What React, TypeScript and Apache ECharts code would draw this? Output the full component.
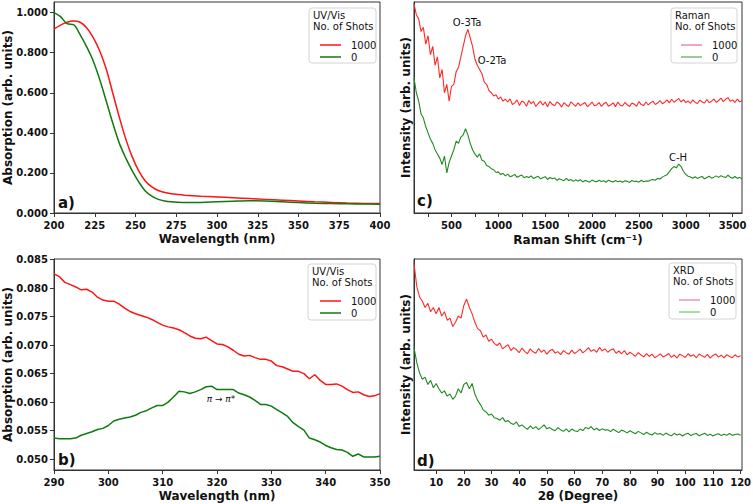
import React, { useEffect, useRef } from 'react';
import * as echarts from 'echarts';

// ---------- Panel a: UV/Vis full range ----------
const uvWavelengthA = [200, 204, 208, 212, 216, 220, 224, 228, 232, 236, 240, 244, 248, 252, 256, 260, 264, 268, 272, 276, 280, 290, 300, 310, 320, 330, 340, 350, 360, 370, 380, 390, 400];
const uvShots1000A = [0.918, 0.938, 0.952, 0.958, 0.952, 0.925, 0.877, 0.81, 0.72, 0.6, 0.48, 0.37, 0.28, 0.21, 0.16, 0.13, 0.112, 0.102, 0.096, 0.092, 0.089, 0.084, 0.08, 0.076, 0.072, 0.068, 0.064, 0.06, 0.056, 0.053, 0.05, 0.048, 0.047];
const uvShots0A = [1.0, 0.98, 0.945, 0.94, 0.89, 0.83, 0.76, 0.668, 0.56, 0.45, 0.35, 0.275, 0.21, 0.155, 0.11, 0.084, 0.068, 0.06, 0.056, 0.054, 0.053, 0.053, 0.056, 0.059, 0.061, 0.06, 0.056, 0.052, 0.049, 0.047, 0.046, 0.045, 0.044];

// ---------- Panel b: UV/Vis zoom 290-350 nm ----------
const uvWavelengthB = [290, 291, 292, 293, 294, 295, 296, 297, 298, 299, 300, 301, 302, 303, 304, 305, 306, 307, 308, 309, 310, 311, 312, 313, 314, 315, 316, 317, 318, 319, 320, 321, 322, 323, 324, 325, 326, 327, 328, 329, 330, 331, 332, 333, 334, 335, 336, 337, 338, 339, 340, 341, 342, 343, 344, 345, 346, 347, 348, 349, 350];
const uvShots1000B = [0.0825, 0.082, 0.081, 0.0806, 0.0802, 0.0797, 0.0798, 0.0793, 0.0784, 0.0779, 0.0777, 0.0777, 0.0772, 0.0765, 0.0759, 0.0755, 0.0752, 0.0749, 0.0745, 0.074, 0.0735, 0.0732, 0.073, 0.0727, 0.0722, 0.0716, 0.0712, 0.0711, 0.0714, 0.0708, 0.0702, 0.0701, 0.0697, 0.0691, 0.0684, 0.0681, 0.0682, 0.0678, 0.0675, 0.0675, 0.0672, 0.0664, 0.0662, 0.0658, 0.0654, 0.0654, 0.065, 0.0641, 0.0648, 0.0638, 0.0631, 0.0631, 0.0632, 0.0628, 0.0622, 0.0617, 0.0618, 0.0613, 0.061, 0.0611, 0.0615];
const uvShots0B = [0.0537, 0.0536, 0.0536, 0.0536, 0.0537, 0.0542, 0.0545, 0.0548, 0.0552, 0.0554, 0.0559, 0.0567, 0.057, 0.0572, 0.0574, 0.0577, 0.0582, 0.0585, 0.059, 0.0594, 0.0594, 0.06, 0.0609, 0.0619, 0.0618, 0.0615, 0.0618, 0.0622, 0.0627, 0.0628, 0.0622, 0.0622, 0.0622, 0.0622, 0.0616, 0.0613, 0.0609, 0.0603, 0.0596, 0.0596, 0.0593, 0.0587, 0.0581, 0.0575, 0.0564, 0.0557, 0.0551, 0.0537, 0.0534, 0.053, 0.0524, 0.052, 0.0517, 0.0516, 0.0512, 0.0505, 0.0509, 0.0504, 0.0504, 0.0504, 0.0505];

// ---------- Panel c: Raman ----------
const ramanShift = [
  100, 125, 150, 175, 200, 225, 250, 275, 300, 325,
  350, 375, 400, 425, 450, 475, 500, 525, 550, 575,
  600, 625, 650, 675, 700, 725, 750, 775, 800, 825,
  850, 875, 900, 925, 950, 975, 1000, 1025, 1050, 1075,
  1100, 1125, 1150, 1175, 1200, 1225, 1250, 1275, 1300, 1325,
  1350, 1375, 1400, 1425, 1450, 1475, 1500, 1525, 1550, 1575,
  1600, 1625, 1650, 1675, 1700, 1725, 1750, 1775, 1800, 1825,
  1850, 1875, 1900, 1925, 1950, 1975, 2000, 2025, 2050, 2075,
  2100, 2125, 2150, 2175, 2200, 2225, 2250, 2275, 2300, 2325,
  2350, 2375, 2400, 2425, 2450, 2475, 2500, 2525, 2550, 2575,
  2600, 2625, 2650, 2675, 2700, 2725, 2750, 2775, 2800, 2825,
  2850, 2875, 2900, 2925, 2950, 2975, 3000, 3025, 3050, 3075,
  3100, 3125, 3150, 3175, 3200, 3225, 3250, 3275, 3300, 3325,
  3350, 3375, 3400, 3425, 3450, 3475, 3500, 3525, 3550, 3575,
  3600,
];
const ramanShots1000 = [
  99, 94, 92, 86, 88, 80, 84, 75, 79, 70,
  74, 64, 68, 57, 61, 53, 60, 61, 67, 69,
  74, 79, 84, 87, 83, 79, 73, 70, 68, 66,
  62, 61, 58, 57, 55.5, 56, 54, 55, 53, 54,
  52.6, 54.1, 51.4, 52.2, 53.6, 50.9, 53.1, 52.4, 50.6, 53.3,
  51.8, 52.9, 50.5, 51.9, 53, 51.1, 52.6, 50.4, 52.8, 51.5,
  50.8, 52.6, 51.9, 50.2, 52.3, 51.2, 50.5, 52.7, 51.6, 50.6,
  52.2, 50.9, 51.7, 52.4, 50.3, 51.4, 52.6, 50.8, 51.2, 52.3,
  50.5, 51.8, 52.5, 50.6, 51.3, 52.2, 50.4, 52.6, 51.1, 50.7,
  52.4, 51.3, 50.5, 52.1, 51.6, 50.6, 52.8, 51.4, 50.9, 52.6,
  51.2, 52.3, 53, 51.4, 52.1, 53.3, 51.8, 52.5, 53.6, 52.2,
  53.9, 52.5, 53.4, 54.3, 52.6, 53.7, 52.3, 53.1, 52, 53.6,
  52.4, 51.9, 53.5, 52.6, 52.1, 53.8, 52.3, 53, 54, 52.5,
  53.3, 54.5, 52.8, 53.9, 54.7, 52.9, 53.6, 52.4, 54, 52.7,
  53.2,
];
const ramanShots0 = [
  64, 57, 53, 47, 45, 41, 38, 35, 33, 30,
  28, 26, 23, 27, 19, 24, 27, 30, 34, 33,
  36, 37, 40, 37, 33, 30, 28, 26.5, 28, 25,
  24.5, 22.5, 22, 21, 20.5, 19.2, 19.5, 18.2, 18.8, 17.6,
  18.4, 17.2, 17.6, 18.3, 16.9, 17.5, 18, 16.7, 17.3, 16.8,
  17.6, 16.3, 16.9, 17.4, 16.2, 16.7, 17.2, 15.9, 16.8, 16.2,
  16.6, 15.5, 16.2, 15.8, 15.3, 16.4, 15.4, 15.9, 15, 15.7,
  15.2, 15.8, 14.7, 15.4, 15.1, 14.6, 15.6, 15, 14.8, 15.5,
  14.9, 15.3, 14.6, 15.5, 15, 14.7, 15.4, 14.8, 15.2, 14.6,
  15.3, 15, 14.5, 15.4, 14.9, 15.1, 14.6, 15.5, 14.8, 15.2,
  15.1, 15.6, 15.9, 15.5, 16.4, 16.1, 17, 17.6, 18.1, 19.6,
  21, 22, 21.4, 23.2, 22, 19.8, 18.3, 17.4, 17.1, 16.5,
  17.2, 16.4, 16.9, 17.3, 16.2, 16.8, 17.4, 16.5, 17, 17.6,
  16.9, 17.7, 17.2, 16.8, 17.9, 17, 16.5, 17.3, 16.4, 16.9,
  16.1,
];

// ---------- Panel d: XRD ----------
const twoTheta = [
  2, 3, 4, 5, 6, 7, 8, 9, 10, 11,
  12, 13, 14, 15, 16, 17, 18, 19, 20, 21,
  22, 23, 24, 25, 26, 27, 28, 29, 30, 31,
  32, 33, 34, 35, 36, 37, 38, 39, 40, 41,
  42, 43, 44, 45, 46, 47, 48, 49, 50, 51,
  52, 53, 54, 55, 56, 57, 58, 59, 60, 61,
  62, 63, 64, 65, 66, 67, 68, 69, 70, 71,
  72, 73, 74, 75, 76, 77, 78, 79, 80, 81,
  82, 83, 84, 85, 86, 87, 88, 89, 90, 91,
  92, 93, 94, 95, 96, 97, 98, 99, 100, 101,
  102, 103, 104, 105, 106, 107, 108, 109, 110, 111,
  112, 113, 114, 115, 116, 117, 118, 119, 120,
];
const xrdShots1000 = [
  98, 87, 82, 80, 77, 79, 75, 77, 74, 77,
  73, 75, 71, 72, 68, 70, 73, 72, 78, 81,
  77, 74, 70, 67, 66, 63, 64, 61, 62, 60,
  59, 60.2, 57.4, 58.5, 59.4, 56.6, 58, 57.1, 55.6, 57.8,
  56.2, 55.1, 57.4, 56, 55.3, 57.6, 55.8, 56.9, 54.9, 56.5,
  57.2, 55.4, 56.1, 54.7, 56.6, 55.6, 54.9, 56.8, 55.2, 56.1,
  57.3, 55.5, 56.6, 58, 56.2, 57.1, 55.8, 58.1, 56.5, 57.4,
  55.8, 56.9, 57.4, 55.3, 56.4, 55.1, 56.6, 54.6, 55.8, 54.9,
  53.9, 55.6, 54.5, 53.6, 55.2, 53.8, 54.9, 53.2, 54.1, 55,
  53.6, 54.3, 55.2, 53.4, 54.5, 53.1, 54.9, 54.2, 53.3, 55.1,
  53.9, 54.6, 53.2, 55, 54.1, 53.4, 54.8, 53, 54.3, 55,
  53.5, 54.4, 53.1, 54.7, 53.8, 53.2, 54.6, 53.5, 54.1,
];
const xrdShots0 = [
  58, 51, 46, 43, 44, 40.5, 42.5, 39, 41, 38.5,
  36.5, 37.5, 35, 36, 33.5, 35, 38.5, 36.5, 40.5, 41.5,
  38.5, 41, 36, 33, 31, 28.5, 27.5, 26, 26.5, 24.8,
  24.4, 23.6, 24.8, 22.9, 23.4, 22.2, 21.6, 22.8, 20.6, 21.4,
  20.2, 19.3, 20.9, 19.6, 20.5, 19.1, 20.2, 21.4, 19.5, 20.1,
  19.2, 18.6, 20.1, 19, 18.3, 19.5, 18.1, 19.4, 18.6, 18.2,
  19.4, 18.7, 20.2, 19.5, 20.6, 19, 19.8, 18.7, 19.5, 18.9,
  19.1, 18.2, 19.3, 18.5, 17.7, 18.9, 18.4, 17.6, 18.6, 17.9,
  17.2, 18.3, 17.6, 16.8, 17.9, 17.1, 16.6, 17.7, 16.9, 17.3,
  16.4, 17.5, 16.7, 16.2, 17.4, 16.6, 17.1, 16.1, 16.9, 17.4,
  16.3, 16.9, 17.3, 16.2, 16.8, 17.4, 16.4, 17, 16.1, 16.8,
  17.2, 16.3, 16.9, 16.5, 17.3, 16.4, 16.8, 17.1, 16.5,
];

// ---------- Tick labels ----------
const ticksA_x = [200, 225, 250, 275, 300, 325, 350, 375, 400];
const ticksA_y = [0, 0.2, 0.4, 0.6, 0.8, 1.0];
const ticksB_x = [290, 300, 310, 320, 330, 340, 350];
const ticksB_y = [0.05, 0.055, 0.06, 0.065, 0.07, 0.075, 0.08, 0.085];
const ticksC_xMinor = [250, 500, 750, 1000, 1250, 1500, 1750, 2000, 2250, 2500, 2750, 3000, 3250, 3500];
const ticksC_x = [500, 1000, 1500, 2000, 2500, 3000, 3500];
const ticksD_x = [10, 20, 30, 40, 50, 60, 70, 80, 90, 100, 110, 120];

const FONT = '"DejaVu Sans", Verdana, sans-serif';
const AX = '#333333';
const RED = '#ff1414';
const GREEN = '#0f7a0f';
const RAMAN_RED = '#ff2a2a';
const RAMAN_GREEN = '#218a21';
const LINE_ICON = 'path://M0,0H21V1.5H0Z';

const zip = (xs: number[], ys: number[]) => xs.map((x, i) => [x, ys[i]]);
const plain = (v: number) => String(v);

const LEGEND_LABELS: Record<string, string> = {
  'UV/Vis (a) 1000': '1000', 'UV/Vis (a) 0': '0',
  'UV/Vis (b) 1000': '1000', 'UV/Vis (b) 0': '0',
  'Raman 1000': '1000', 'Raman 0': '0',
  'XRD 1000': '1000', 'XRD 0': '0',
};

function xAxisBase(gridIndex: number, min: number, max: number, name: string, labels: number[], ticks: number[], fmt?: (v: number) => string) {
  return {
    type: 'value', gridIndex, min, max, name,
    nameLocation: 'middle', nameGap: 20, nameMoveOverlap: false,
    nameTextStyle: { fontFamily: FONT, fontWeight: 'bold', fontSize: 12, color: '#111' },
    axisLine: { show: true, onZero: false, lineStyle: { color: AX, width: 1 } },
    axisTick: { show: true, length: 4, lineStyle: { color: AX }, customValues: ticks },
    axisLabel: { fontFamily: FONT, fontWeight: 'bold', fontSize: 10, color: '#111', margin: 7, customValues: labels, formatter: fmt || plain },
    splitLine: { show: false },
  };
}

function yAxisBase(gridIndex: number, min: number, max: number, name: string, labels: number[] | null, fmt: ((v: number) => string) | undefined, nameGap: number) {
  return {
    type: 'value', gridIndex, min, max, name,
    nameLocation: 'middle', nameGap, nameMoveOverlap: false,
    nameTextStyle: { fontFamily: FONT, fontWeight: 'bold', fontSize: 12, color: '#111' },
    axisLine: { show: true, onZero: false, lineStyle: { color: AX, width: 1 } },
    axisTick: labels ? { show: true, length: 4, lineStyle: { color: AX }, customValues: labels } : { show: false },
    axisLabel: labels ? { show: true, fontFamily: FONT, fontWeight: 'bold', fontSize: 10, color: '#111', margin: 6, customValues: labels, formatter: fmt } : { show: false },
    splitLine: { show: false },
  };
}

function legendBox(x: number, y: number, w: number, h: number, t1: string, tx: number) {
  return [
    { type: 'rect', z: 3, shape: { x, y, width: w, height: h, r: 3 }, style: { fill: 'rgba(255,255,255,0.9)', stroke: '#d4d4d4', lineWidth: 1 } },
    { type: 'text', z: 5, style: { text: t1, x: tx, y: y + 7, fontFamily: FONT, fontSize: 10, fill: '#111', align: 'left', verticalAlign: 'middle' } },
    { type: 'text', z: 5, style: { text: 'No. of Shots', x: tx, y: y + 18, fontFamily: FONT, fontSize: 10, fill: '#111', align: 'left', verticalAlign: 'middle' } },
  ];
}

function txt(text: string, x: number, y: number, size: number, bold: boolean, align = 'center', italic = false) {
  return { type: 'text', z: 5, style: { text, x, y, fontFamily: FONT, fontSize: size, fontWeight: bold ? 'bold' : 'normal', fontStyle: italic ? 'italic' : 'normal', fill: '#111', align, verticalAlign: 'middle' } };
}

function legend(left: number, top: number, items: { name: string; color: string }[]) {
  return {
    orient: 'vertical', left, top, itemWidth: 21, itemHeight: 12, itemGap: 2, selectedMode: false,
    icon: LINE_ICON, symbolKeepAspect: true,
    formatter: (n: string) => LEGEND_LABELS[n] ?? n,
    textStyle: { fontFamily: FONT, fontSize: 10, color: '#111', padding: [0, 0, 0, 5] },
    data: items.map((it) => ({ name: it.name, icon: LINE_ICON, itemStyle: { color: it.color, borderWidth: 0 } })),
  };
}

export default function App() {
  const ref = useRef<HTMLDivElement>(null);
  useEffect(() => {
    if (!ref.current) return;
    const chart = echarts.init(ref.current, null, { renderer: 'svg' });
    const grid = (left: number, top: number, width: number, height: number) => ({
      left, top, width, height, show: true, borderColor: AX, borderWidth: 1, backgroundColor: 'transparent', outerBoundsMode: 'none', containLabel: false,
    });
    const option: any = {
      animation: false,
      backgroundColor: '#ffffff',
      grid: [grid(54, 2, 326, 211), grid(54, 259, 326, 211), grid(414, 2, 328, 211), grid(414, 259, 328, 211)],
      xAxis: [
        xAxisBase(0, 200, 400, 'Wavelength (nm)', ticksA_x, ticksA_x),
        xAxisBase(1, 290, 350, 'Wavelength (nm)', ticksB_x, ticksB_x),
        { ...xAxisBase(2, 100, 3600, 'Raman Shift (cm⁻¹)', ticksC_x, ticksC_xMinor), nameGap: 21 },
        xAxisBase(3, 2, 120.5, '2θ (Degree)', ticksD_x, ticksD_x),
      ],
      yAxis: [
        yAxisBase(0, 0, 1.053, 'Absorption (arb. units)', ticksA_y, (v: number) => v.toFixed(3), 40),
        yAxisBase(1, 0.0481, 0.0851, 'Absorption (arb. units)', ticksB_y, (v: number) => v.toFixed(3), 40),
        yAxisBase(2, 0, 100, 'Intensity (arb. units)', null, undefined, 2),
        yAxisBase(3, 0, 100, 'Intensity (arb. units)', null, undefined, 2),
      ],
      legend: [
        legend(315, 35, [{ name: 'UV/Vis (a) 1000', color: RED }, { name: 'UV/Vis (a) 0', color: GREEN }]),
        legend(315, 291, [{ name: 'UV/Vis (b) 1000', color: RED }, { name: 'UV/Vis (b) 0', color: GREEN }]),
        legend(676, 35, [{ name: 'Raman 1000', color: '#ec88a6' }, { name: 'Raman 0', color: '#7db87d' }]),
        legend(674, 290, [{ name: 'XRD 1000', color: '#e896b0' }, { name: 'XRD 0', color: '#86d686' }]),
      ],
      series: [
        { name: 'UV/Vis (a) 1000', type: 'line', xAxisIndex: 0, yAxisIndex: 0, data: zip(uvWavelengthA, uvShots1000A), symbol: 'none', smooth: 0.35, lineStyle: { color: RED, width: 1.5 }, itemStyle: { color: RED } },
        { name: 'UV/Vis (a) 0', type: 'line', xAxisIndex: 0, yAxisIndex: 0, data: zip(uvWavelengthA, uvShots0A), symbol: 'none', smooth: 0.35, lineStyle: { color: GREEN, width: 1.5 }, itemStyle: { color: GREEN } },
        { name: 'UV/Vis (b) 1000', type: 'line', xAxisIndex: 1, yAxisIndex: 1, data: zip(uvWavelengthB, uvShots1000B), symbol: 'none', lineStyle: { color: RED, width: 1.5 }, itemStyle: { color: RED } },
        { name: 'UV/Vis (b) 0', type: 'line', xAxisIndex: 1, yAxisIndex: 1, data: zip(uvWavelengthB, uvShots0B), symbol: 'none', lineStyle: { color: GREEN, width: 1.5 }, itemStyle: { color: GREEN } },
        { name: 'Raman 1000', type: 'line', xAxisIndex: 2, yAxisIndex: 2, data: zip(ramanShift, ramanShots1000), symbol: 'none', lineStyle: { color: RAMAN_RED, width: 1.1 }, itemStyle: { color: RAMAN_RED } },
        { name: 'Raman 0', type: 'line', xAxisIndex: 2, yAxisIndex: 2, data: zip(ramanShift, ramanShots0), symbol: 'none', lineStyle: { color: RAMAN_GREEN, width: 1.1 }, itemStyle: { color: RAMAN_GREEN } },
        { name: 'XRD 1000', type: 'line', xAxisIndex: 3, yAxisIndex: 3, data: zip(twoTheta, xrdShots1000), symbol: 'none', lineStyle: { color: RAMAN_RED, width: 1.1 }, itemStyle: { color: RAMAN_RED } },
        { name: 'XRD 0', type: 'line', xAxisIndex: 3, yAxisIndex: 3, data: zip(twoTheta, xrdShots0), symbol: 'none', lineStyle: { color: RAMAN_GREEN, width: 1.1 }, itemStyle: { color: RAMAN_GREEN } },
      ],
      graphic: [
        ...legendBox(309, 8, 67, 55, 'UV/Vis', 313),
        ...legendBox(308, 264, 68, 56, 'UV/Vis', 312),
        ...legendBox(671, 8, 66, 55, 'Raman', 675),
        ...legendBox(669, 263, 67, 56, 'XRD', 673),
        txt('a)', 58, 203, 15, true, 'left'),
        txt('b)', 58, 460, 15, true, 'left'),
        txt('c)', 417, 201, 15, true, 'left'),
        txt('d)', 417, 461, 15, true, 'left'),
        txt('O-3Ta', 467, 22, 10, false),
        txt('O-2Ta', 492, 60, 10, false),
        txt('C-H', 678, 157, 10, false),
        txt('π → π*', 221, 399, 9, false, 'center', true),
      ],
    };
    chart.setOption(option);
    return () => chart.dispose();
  }, []);
  return <div ref={ref} style={{ position: 'absolute', left: 0, top: 0, width: 753, height: 504, background: '#fff' }} />;
}
